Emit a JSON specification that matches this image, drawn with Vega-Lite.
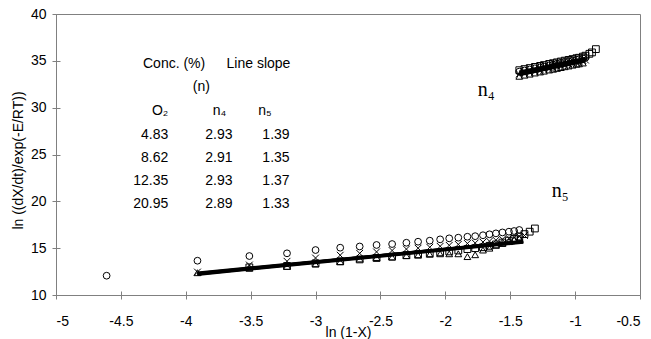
{
  "$schema": "https://vega.github.io/schema/vega-lite/v6.json",
  "width": 584,
  "height": 281,
  "autosize": {"type": "none"},
  "padding": {"left": 56, "top": 14, "right": 11, "bottom": 44},
  "background": "white",
  "datasets": {
    "pts": [
      {"x": -4.61, "y": 12.06, "s": "c"}, {"x": -3.91, "y": 13.66, "s": "c"}, {"x": -3.51, "y": 14.16, "s": "c"}, {"x": -3.22, "y": 14.45, "s": "c"}, {"x": -3.0, "y": 14.8, "s": "c"}, {"x": -2.81, "y": 15.05, "s": "c"}, {"x": -2.66, "y": 15.18, "s": "c"}, {"x": -2.53, "y": 15.34, "s": "c"}, {"x": -2.41, "y": 15.44, "s": "c"}, {"x": -2.3, "y": 15.58, "s": "c"}, {"x": -2.21, "y": 15.69, "s": "c"}, {"x": -2.12, "y": 15.8, "s": "c"}, {"x": -2.04, "y": 15.94, "s": "c"}, {"x": -1.97, "y": 16.05, "s": "c"}, {"x": -1.9, "y": 16.12, "s": "c"}, {"x": -1.83, "y": 16.22, "s": "c"}, {"x": -1.77, "y": 16.28, "s": "c"}, {"x": -1.71, "y": 16.38, "s": "c"}, {"x": -1.66, "y": 16.48, "s": "c"}, {"x": -1.61, "y": 16.58, "s": "c"}, {"x": -1.56, "y": 16.68, "s": "c"}, {"x": -1.51, "y": 16.76, "s": "c"}, {"x": -1.47, "y": 16.83, "s": "c"}, {"x": -1.43, "y": 16.94, "s": "c"},
      {"x": -3.91, "y": 12.45, "s": "x"}, {"x": -3.51, "y": 13.2, "s": "x"}, {"x": -3.22, "y": 13.6, "s": "x"}, {"x": -3.0, "y": 13.95, "s": "x"}, {"x": -2.81, "y": 14.25, "s": "x"}, {"x": -2.66, "y": 14.45, "s": "x"}, {"x": -2.53, "y": 14.6, "s": "x"}, {"x": -2.41, "y": 14.75, "s": "x"}, {"x": -2.3, "y": 14.9, "s": "x"}, {"x": -2.21, "y": 15.0, "s": "x"}, {"x": -2.12, "y": 15.1, "s": "x"}, {"x": -2.04, "y": 15.2, "s": "x"}, {"x": -1.97, "y": 15.3, "s": "x"}, {"x": -1.9, "y": 15.4, "s": "x"}, {"x": -1.83, "y": 15.5, "s": "x"}, {"x": -1.77, "y": 15.55, "s": "x"}, {"x": -1.71, "y": 15.65, "s": "x"}, {"x": -1.66, "y": 15.75, "s": "x"}, {"x": -1.61, "y": 15.85, "s": "x"}, {"x": -1.56, "y": 15.95, "s": "x"}, {"x": -1.51, "y": 16.05, "s": "x"}, {"x": -1.47, "y": 16.15, "s": "x"}, {"x": -1.43, "y": 16.25, "s": "x"}, {"x": -1.39, "y": 16.35, "s": "x"},
      {"x": -3.51, "y": 12.95, "s": "q"}, {"x": -3.22, "y": 13.1, "s": "q"}, {"x": -3.0, "y": 13.38, "s": "q"}, {"x": -2.81, "y": 13.6, "s": "q"}, {"x": -2.66, "y": 13.8, "s": "q"}, {"x": -2.53, "y": 13.95, "s": "q"}, {"x": -2.41, "y": 14.1, "s": "q"}, {"x": -2.3, "y": 14.25, "s": "q"}, {"x": -2.21, "y": 14.35, "s": "q"}, {"x": -2.12, "y": 14.45, "s": "q"}, {"x": -2.04, "y": 14.55, "s": "q"}, {"x": -1.97, "y": 14.65, "s": "q"}, {"x": -1.9, "y": 14.75, "s": "q"}, {"x": -1.83, "y": 14.9, "s": "q"}, {"x": -1.77, "y": 15.0, "s": "q"}, {"x": -1.71, "y": 15.1, "s": "q"}, {"x": -1.66, "y": 15.25, "s": "q"}, {"x": -1.61, "y": 15.4, "s": "q"}, {"x": -1.56, "y": 15.6, "s": "q"}, {"x": -1.51, "y": 15.8, "s": "q"}, {"x": -1.47, "y": 16.0, "s": "q"}, {"x": -1.43, "y": 16.25, "s": "q"}, {"x": -1.39, "y": 16.5, "s": "q"}, {"x": -1.35, "y": 16.76, "s": "q"}, {"x": -1.31, "y": 17.1, "s": "q"},
      {"x": -3.91, "y": 12.38, "s": "t"}, {"x": -3.51, "y": 12.85, "s": "t"}, {"x": -3.22, "y": 13.05, "s": "t"}, {"x": -3.0, "y": 13.3, "s": "t"}, {"x": -2.81, "y": 13.55, "s": "t"}, {"x": -2.66, "y": 13.85, "s": "t"}, {"x": -2.53, "y": 14.0, "s": "t"}, {"x": -2.41, "y": 14.05, "s": "t"}, {"x": -2.3, "y": 14.2, "s": "t"}, {"x": -2.21, "y": 14.25, "s": "t"}, {"x": -2.12, "y": 14.35, "s": "t"}, {"x": -2.04, "y": 14.4, "s": "t"}, {"x": -1.97, "y": 14.4, "s": "t"}, {"x": -1.9, "y": 14.4, "s": "t"}, {"x": -1.83, "y": 14.1, "s": "t"}, {"x": -1.77, "y": 14.3, "s": "t"}, {"x": -1.71, "y": 14.8, "s": "t"}, {"x": -1.66, "y": 15.0, "s": "t"}, {"x": -1.61, "y": 15.3, "s": "t"}, {"x": -1.56, "y": 15.5, "s": "t"}, {"x": -1.51, "y": 15.7, "s": "t"}, {"x": -1.47, "y": 15.9, "s": "t"}, {"x": -1.43, "y": 16.05, "s": "t"},
      {"x": -1.43, "y": 33.35, "s": "t"}, {"x": -1.39, "y": 33.47, "s": "t"}, {"x": -1.35, "y": 33.58, "s": "t"}, {"x": -1.31, "y": 33.7, "s": "t"}, {"x": -1.27, "y": 33.81, "s": "t"}, {"x": -1.24, "y": 33.9, "s": "t"}, {"x": -1.2, "y": 34.02, "s": "t"}, {"x": -1.17, "y": 34.1, "s": "t"}, {"x": -1.14, "y": 34.19, "s": "t"}, {"x": -1.11, "y": 34.28, "s": "t"}, {"x": -1.08, "y": 34.37, "s": "t"}, {"x": -1.05, "y": 34.45, "s": "t"}, {"x": -1.02, "y": 34.54, "s": "t"}, {"x": -0.99, "y": 34.63, "s": "t"}, {"x": -0.97, "y": 34.68, "s": "t"}, {"x": -0.94, "y": 34.77, "s": "t"},
      {"x": -1.43, "y": 33.6, "s": "x"}, {"x": -1.39, "y": 33.72, "s": "x"}, {"x": -1.35, "y": 33.83, "s": "x"}, {"x": -1.31, "y": 33.95, "s": "x"}, {"x": -1.27, "y": 34.06, "s": "x"}, {"x": -1.24, "y": 34.15, "s": "x"}, {"x": -1.2, "y": 34.27, "s": "x"}, {"x": -1.17, "y": 34.35, "s": "x"}, {"x": -1.14, "y": 34.44, "s": "x"}, {"x": -1.11, "y": 34.53, "s": "x"}, {"x": -1.08, "y": 34.62, "s": "x"}, {"x": -1.05, "y": 34.7, "s": "x"}, {"x": -1.02, "y": 34.79, "s": "x"}, {"x": -0.99, "y": 34.88, "s": "x"}, {"x": -0.97, "y": 34.93, "s": "x"}, {"x": -0.94, "y": 35.02, "s": "x"}, {"x": -0.92, "y": 35.08, "s": "x"},
      {"x": -1.43, "y": 33.85, "s": "c"}, {"x": -1.39, "y": 33.97, "s": "c"}, {"x": -1.35, "y": 34.08, "s": "c"}, {"x": -1.31, "y": 34.2, "s": "c"}, {"x": -1.27, "y": 34.31, "s": "c"}, {"x": -1.24, "y": 34.4, "s": "c"}, {"x": -1.2, "y": 34.52, "s": "c"}, {"x": -1.17, "y": 34.6, "s": "c"}, {"x": -1.14, "y": 34.69, "s": "c"}, {"x": -1.11, "y": 34.78, "s": "c"}, {"x": -1.08, "y": 34.87, "s": "c"}, {"x": -1.05, "y": 34.95, "s": "c"}, {"x": -1.02, "y": 35.04, "s": "c"}, {"x": -0.99, "y": 35.13, "s": "c"}, {"x": -0.97, "y": 35.18, "s": "c"}, {"x": -0.94, "y": 35.27, "s": "c"}, {"x": -0.92, "y": 35.33, "s": "c"},
      {"x": -1.43, "y": 34.0, "s": "q"}, {"x": -1.39, "y": 34.12, "s": "q"}, {"x": -1.35, "y": 34.23, "s": "q"}, {"x": -1.31, "y": 34.35, "s": "q"}, {"x": -1.27, "y": 34.46, "s": "q"}, {"x": -1.24, "y": 34.55, "s": "q"}, {"x": -1.2, "y": 34.67, "s": "q"}, {"x": -1.17, "y": 34.75, "s": "q"}, {"x": -1.14, "y": 34.84, "s": "q"}, {"x": -1.11, "y": 34.93, "s": "q"}, {"x": -1.08, "y": 35.02, "s": "q"}, {"x": -1.05, "y": 35.1, "s": "q"}, {"x": -1.02, "y": 35.19, "s": "q"}, {"x": -0.99, "y": 35.28, "s": "q"}, {"x": -0.97, "y": 35.33, "s": "q"}, {"x": -0.94, "y": 35.45, "s": "q"}, {"x": -0.92, "y": 35.55, "s": "q"}, {"x": -0.89, "y": 35.75, "s": "q"}, {"x": -0.87, "y": 35.9, "s": "q"}, {"x": -0.84, "y": 36.25, "s": "q"}
    ],
    "fits": [
      {"line": "L1", "x": -3.91, "y": 12.25}, {"line": "L1", "x": -1.4, "y": 15.74},
      {"line": "L2", "x": -3.91, "y": 12.3}, {"line": "L2", "x": -1.4, "y": 15.69},
      {"line": "L3", "x": -3.91, "y": 12.2}, {"line": "L3", "x": -1.4, "y": 15.64},
      {"line": "L4", "x": -3.91, "y": 12.35}, {"line": "L4", "x": -1.4, "y": 15.69},
      {"line": "U1", "x": -1.43, "y": 33.5}, {"line": "U1", "x": -0.92, "y": 34.99},
      {"line": "U2", "x": -1.43, "y": 33.7}, {"line": "U2", "x": -0.92, "y": 35.18},
      {"line": "U3", "x": -1.43, "y": 33.6}, {"line": "U3", "x": -0.92, "y": 35.09},
      {"line": "U4", "x": -1.43, "y": 33.8}, {"line": "U4", "x": -0.92, "y": 35.27}
    ],
    "tblCenter": [
      {"x": -4.09, "y": 34.7, "text": "Conc. (%)"},
      {"x": -3.44, "y": 34.7, "text": "Line slope"},
      {"x": -3.88, "y": 32.2, "text": "(n)"},
      {"x": -3.74, "y": 29.6, "text": "n₄"},
      {"x": -3.39, "y": 29.6, "text": "n₅"},
      {"x": -3.745, "y": 27.1, "text": "2.93"},
      {"x": -3.745, "y": 24.6, "text": "2.91"},
      {"x": -3.745, "y": 22.15, "text": "2.93"},
      {"x": -3.745, "y": 19.7, "text": "2.89"},
      {"x": -3.305, "y": 27.1, "text": "1.39"},
      {"x": -3.305, "y": 24.6, "text": "1.35"},
      {"x": -3.305, "y": 22.15, "text": "1.37"},
      {"x": -3.305, "y": 19.7, "text": "1.33"}
    ],
    "tblRight": [
      {"x": -4.135, "y": 29.6, "text": "O₂"},
      {"x": -4.135, "y": 27.1, "text": "4.83"},
      {"x": -4.135, "y": 24.6, "text": "8.62"},
      {"x": -4.135, "y": 22.15, "text": "12.35"},
      {"x": -4.135, "y": 19.7, "text": "20.95"}
    ],
    "bigLabels": [
      {"x": -1.75, "y": 31.2, "text": "n₄"},
      {"x": -1.18, "y": 20.5, "text": "n₅"}
    ]
  },
  "layer": [
    {
      "data": {"name": "pts"},
      "mark": {"type": "point", "filled": false, "stroke": "black", "strokeWidth": 1, "size": 46, "opacity": 1},
      "encoding": {
        "x": {"field": "x", "type": "quantitative", "scale": {"domain": [-5, -0.5], "nice": false, "zero": false},
          "axis": {"orient": "bottom", "title": "ln (1-X)", "values": [-5, -4.5, -4, -3.5, -3, -2.5, -2, -1.5, -1, -0.5], "labelExpr": "'' + datum.value", "titleBaseline": "middle", "titleY": 37, "labelPadding": 15, "tickSize": 4}},
        "y": {"field": "y", "type": "quantitative", "scale": {"domain": [10, 40], "nice": false, "zero": false},
          "axis": {"orient": "left", "title": "ln ((dX/dt)/exp(-E/RT))", "values": [10, 15, 20, 25, 30, 35, 40], "labelExpr": "'' + datum.value", "titleX": -38, "titleY": 146, "titleAngle": 270, "titleAlign": "center", "titleBaseline": "middle", "labelPadding": 6, "tickSize": 4}},
        "shape": {"field": "s", "type": "nominal", "legend": null,
          "scale": {"domain": ["c", "x", "t", "q"], "range": ["circle", "M-1,-1L1,1M-1,1L1,-1", "triangle-up", "square"]}}
      }
    },
    {
      "data": {"name": "fits"},
      "mark": {"type": "line", "color": "black", "strokeWidth": 3},
      "encoding": {
        "x": {"field": "x", "type": "quantitative",
          "axis": {"orient": "top", "offset": -281, "values": [-5, -4.5, -4, -3.5, -3, -2.5, -2, -1.5, -1, -0.5], "labels": false, "domain": false, "title": null, "tickSize": 4}},
        "y": {"field": "y", "type": "quantitative",
          "axis": {"orient": "right", "offset": -584, "values": [10, 15, 20, 25, 30, 35, 40], "labels": false, "domain": false, "title": null, "tickSize": 4}},
        "detail": {"field": "line", "type": "nominal"}
      }
    },
    {
      "data": {"name": "tblCenter"},
      "mark": {"type": "text", "font": "Liberation Sans", "fontSize": 14, "align": "center", "baseline": "middle", "color": "black"},
      "encoding": {
        "x": {"field": "x", "type": "quantitative", "axis": null},
        "y": {"field": "y", "type": "quantitative", "axis": null},
        "text": {"field": "text"}
      }
    },
    {
      "data": {"name": "tblRight"},
      "mark": {"type": "text", "font": "Liberation Sans", "fontSize": 14, "align": "right", "baseline": "middle", "color": "black"},
      "encoding": {
        "x": {"field": "x", "type": "quantitative", "axis": null},
        "y": {"field": "y", "type": "quantitative", "axis": null},
        "text": {"field": "text"}
      }
    },
    {
      "data": {"name": "bigLabels"},
      "mark": {"type": "text", "font": "Liberation Serif", "fontSize": 20, "align": "left", "baseline": "alphabetic", "color": "black"},
      "encoding": {
        "x": {"field": "x", "type": "quantitative", "axis": null},
        "y": {"field": "y", "type": "quantitative", "axis": null},
        "text": {"field": "text"}
      }
    }
  ],
  "config": {
    "view": {"stroke": "#808080", "strokeWidth": 1},
    "axis": {
      "grid": false,
      "domainColor": "#808080",
      "tickColor": "#808080",
      "labelFont": "Liberation Sans",
      "labelFontSize": 14,
      "labelColor": "black",
      "titleFont": "Liberation Sans",
      "titleFontSize": 14,
      "titleFontWeight": "normal",
      "titleColor": "black"
    }
  }
}
